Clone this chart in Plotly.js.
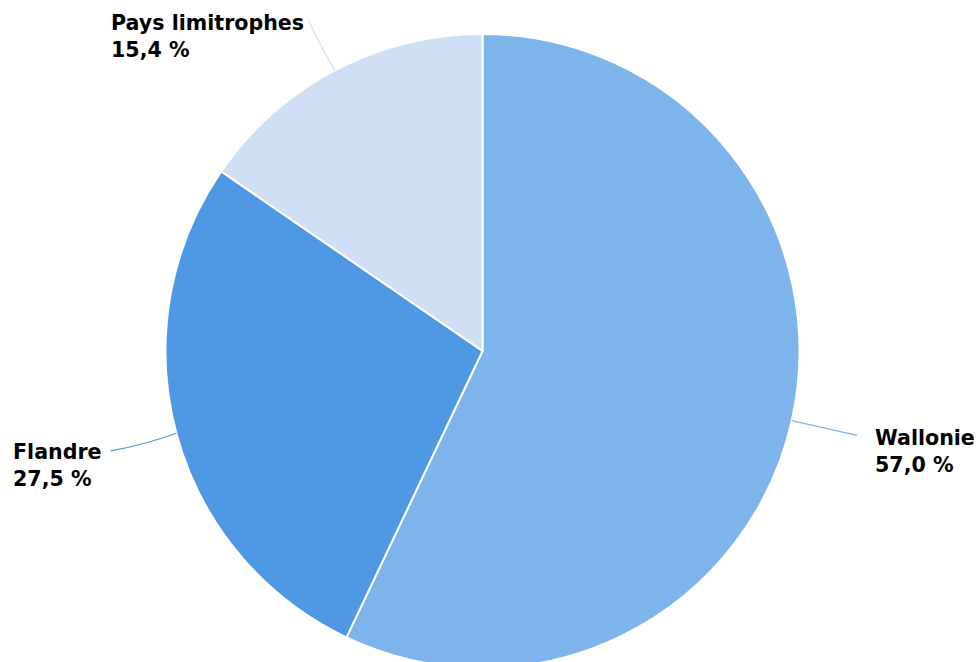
<!DOCTYPE html>
<html>
<head>
<meta charset="utf-8">
<script src="https://cdn.plot.ly/plotly-3.0.1.min.js"></script>
<style>
html,body{margin:0;padding:0;overflow:hidden;background:#fff;}
#chart{width:978px;height:702px;}
</style>
</head>
<body>
<div id="chart"></div>
<script>
const categories = ['Wallonie', 'Flandre', 'Pays limitrophes'];
const values = [57.0, 27.5, 15.4];
const colors = ['#7db4eb', '#4f99e4', '#cfe0f6'];

// label styling (lengths/offsets in px)
const leaderLen = [67, 68, 56];
const labelDx = [16, -7, -2.5];
const labelDy = [-11, -12.5, -12];

const W = 978, H = 702;
const dom = {x: [0, 965 / W], y: [1 - 668 / H, 1 - 34 / H]};
const cx = (dom.x[0] + dom.x[1]) / 2 * W;
const cy = (1 - (dom.y[0] + dom.y[1]) / 2) * H;
const R = Math.min((dom.x[1] - dom.x[0]) * W, (dom.y[1] - dom.y[0]) * H) / 2;

const total = values.reduce((a, b) => a + b, 0);
const fmt = v => v.toFixed(1).replace('.', ',') + ' %';
const px = x => x / W;
const py = y => 1 - y / H;

const shapes = [];
const annotations = [];
let cum = 0;
values.forEach((v, i) => {
  const mid = (cum + v / 2) / total * 2 * Math.PI;
  cum += v;
  const dx = Math.sin(mid), dy = -Math.cos(mid);
  const ex = cx + R * dx, ey = cy + R * dy;
  const L = leaderLen[i];
  const lx = ex + L * dx, ly = ey + L * dy;
  shapes.push({
    type: 'path', xref: 'paper', yref: 'paper',
    path: `M ${px(ex)} ${py(ey)} Q ${px(ex + L * 0.5 * dx)} ${py(ey + L * 0.5 * dy + (dx > 0 ? 0 : 3))} ${px(lx)} ${py(ly)}`,
    line: {color: colors[i], width: 1.2}
  });
  const right = lx > cx;
  annotations.push({
    xref: 'paper', yref: 'paper',
    x: px(lx + labelDx[i]),
    y: py(ly + labelDy[i]),
    xanchor: right ? 'left' : 'right',
    yanchor: 'top',
    align: 'left',
    showarrow: false,
    text: categories[i] + '<br>' + fmt(v),
    font: {family: 'DejaVu Sans', size: 20.6, color: '#000', weight: 'bold'}
  });
});

const data = [{
  type: 'pie',
  labels: categories,
  values: values,
  sort: false,
  direction: 'clockwise',
  rotation: 0,
  textinfo: 'none',
  hoverinfo: 'none',
  marker: {colors: colors, line: {color: '#ffffff', width: 2}},
  domain: dom,
  showlegend: false
}];

const layout = {
  width: W, height: H,
  margin: {l: 0, r: 0, t: 0, b: 0},
  paper_bgcolor: '#ffffff',
  showlegend: false,
  shapes: shapes,
  annotations: annotations
};

Plotly.newPlot('chart', data, layout, {displayModeBar: false, staticPlot: true});
</script>
</body>
</html>
